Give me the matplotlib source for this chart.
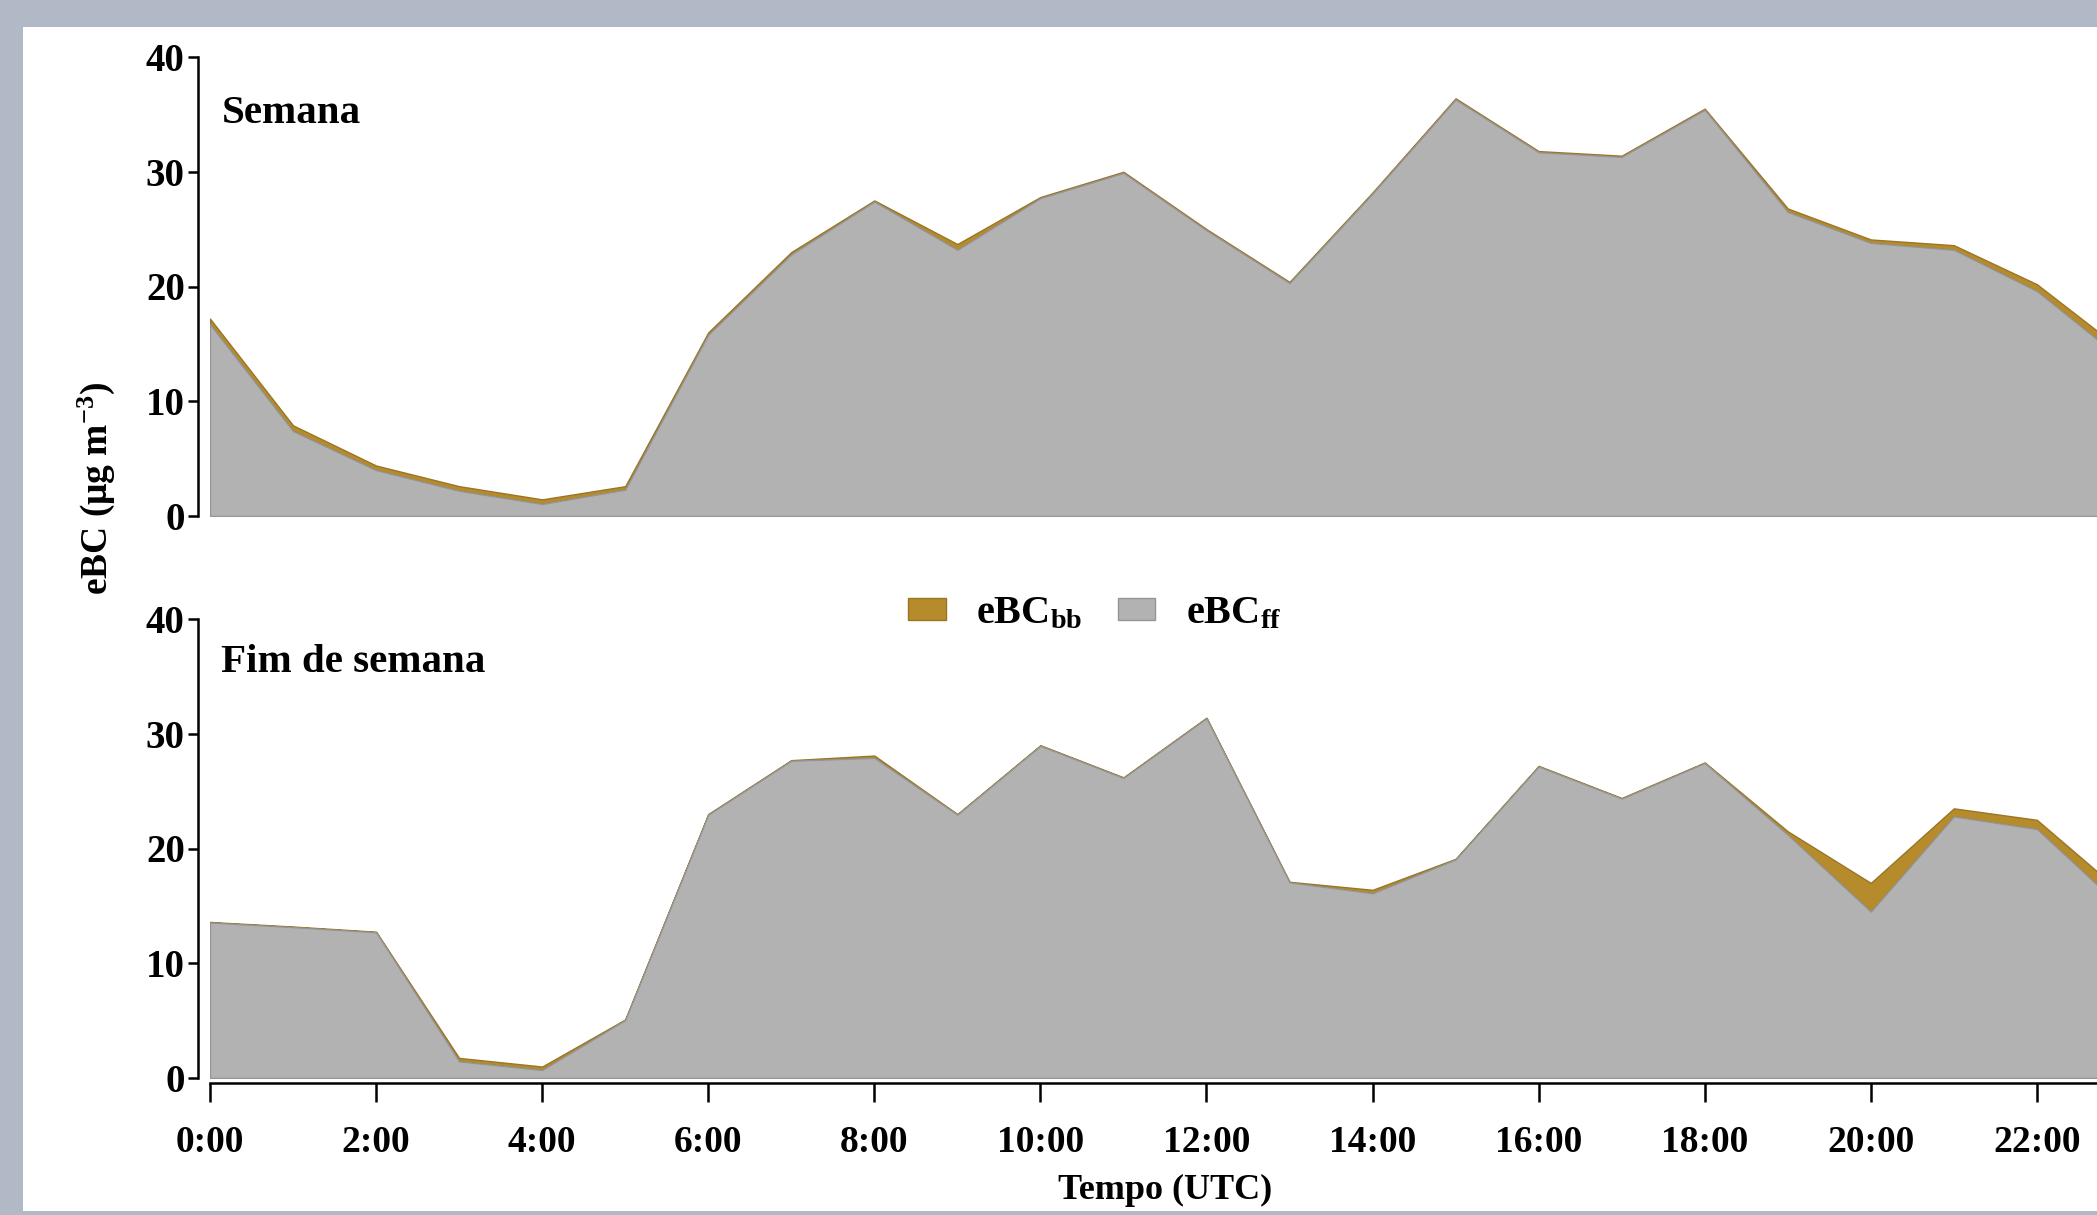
import numpy as np
import matplotlib
matplotlib.use("Agg")
import matplotlib.pyplot as plt
from matplotlib.patches import Patch, Rectangle

plt.rcParams['font.family'] = ['Liberation Serif', 'DejaVu Serif']
plt.rcParams['font.weight'] = 'bold'
plt.rcParams['mathtext.fontset'] = 'custom'
plt.rcParams['mathtext.rm'] = 'Liberation Serif:bold'
plt.rcParams['mathtext.bf'] = 'Liberation Serif:bold'
plt.rcParams['mathtext.it'] = 'Liberation Serif:bold'

# hourly means, 0..23 UTC
hours = np.arange(24)
tick_hours = np.arange(0, 23, 2)
tick_labels = ['0:00', '2:00', '4:00', '6:00', '8:00', '10:00', '12:00',
               '14:00', '16:00', '18:00', '20:00', '22:00']

# weekdays (Semana)
week_ff = [16.7, 7.4, 4.0, 2.2, 1.05, 2.3, 15.8, 22.8, 27.4, 23.2, 27.7, 29.9,
           24.9, 20.3, 28.1, 36.3, 31.7, 31.3, 35.4, 26.5, 23.8, 23.2, 19.6, 13.8]
week_bb = [0.5, 0.5, 0.4, 0.4, 0.4, 0.3, 0.2, 0.2, 0.1, 0.5, 0.1, 0.1,
           0.1, 0.1, 0.1, 0.1, 0.1, 0.1, 0.1, 0.3, 0.3, 0.4, 0.6, 0.8]

# weekend (Fim de semana)
wknd_ff = [13.55, 13.15, 12.7, 1.45, 0.7, 5.05, 22.95, 27.65, 27.9, 22.95, 28.95, 26.15,
           31.35, 17.05, 16.1, 19.05, 27.15, 24.35, 27.45, 21.2, 14.5, 22.8, 21.7, 15.0]
wknd_bb = [0.05, 0.05, 0.05, 0.3, 0.3, 0.05, 0.05, 0.05, 0.2, 0.05, 0.05, 0.05,
           0.05, 0.05, 0.3, 0.05, 0.05, 0.05, 0.05, 0.3, 2.5, 0.7, 0.8, 1.3]

c_bb = '#b68b2c'
c_bb_edge = '#9a7624'
c_ff = '#b2b2b2'
c_ff_edge = '#959595'
frame = '#b1b9c6'

W, H = 2097, 1215
fig = plt.figure(figsize=(W / 100, H / 100), dpi=100)
fig.patch.set_facecolor(frame)
# white page inside the bluish frame
fig.patches.append(Rectangle((23 / W, 4 / H), 1, 1 - 31 / H, transform=fig.transFigure,
                             facecolor='white', edgecolor='none', zorder=-10))

x0 = 210 / W
aw = 23 * 83.04 / W
ah = 459 / H
ax_top = fig.add_axes([x0, 1 - 516 / H, aw, ah])
ax_bot = fig.add_axes([x0, 1 - 1078 / H, aw, ah])

for ax, ff, bb, name, ny in [(ax_top, week_ff, week_bb, 'Semana', 0.877),
                             (ax_bot, wknd_ff, wknd_bb, 'Fim de semana', 0.905)]:
    ax.set_facecolor('none')
    polys = ax.stackplot(hours, ff, bb, colors=[c_ff, c_bb], linewidth=1.0)
    # grey fill drawn over the thin brown band so its outline shows where bb ~ 0
    polys[0].set_edgecolor(c_ff_edge)
    polys[0].set_zorder(3)
    polys[1].set_edgecolor(c_bb_edge)
    polys[1].set_zorder(2)
    ax.set_xlim(0, 23)
    ax.set_ylim(0, 40)
    ax.set_yticks([0, 10, 20, 30, 40])
    ax.spines['top'].set_visible(False)
    ax.spines['right'].set_visible(False)
    ax.spines['left'].set_position(('outward', 8.6))
    ax.spines['left'].set_linewidth(1.8)
    ax.tick_params(axis='y', direction='out', length=7.5, width=1.8,
                   labelsize=28, pad=2)
    for lb in ax.get_yticklabels():
        lb.set_fontweight('bold')
    ax.text(0.006, ny, name, transform=ax.transAxes,
            fontsize=29.5, fontweight='bold', ha='left', va='center', zorder=5)

ax_top.spines['bottom'].set_visible(False)
ax_top.set_xticks([])

ax_bot.spines['bottom'].set_position(('outward', 3.6))
ax_bot.spines['bottom'].set_linewidth(1.8)
ax_bot.set_xticks(tick_hours)
ax_bot.set_xticklabels(tick_labels, fontweight='bold')
ax_bot.tick_params(axis='x', direction='out', length=14, width=1.8,
                   labelsize=27, pad=16)
ax_bot.set_xlabel('Tempo (UTC)', fontsize=26, fontweight='bold', labelpad=10)

fig.text(0.046, 0.598, r'eBC (μg m$^{-3}$)', rotation=90, fontsize=27,
         fontweight='bold', ha='center', va='center')

handles = [Patch(facecolor=c_bb, edgecolor=c_bb_edge, label=r'eBC$_{\mathrm{bb}}$'),
           Patch(facecolor=c_ff, edgecolor=c_ff_edge, label=r'eBC$_{\mathrm{ff}}$')]
fig.legend(handles=handles, loc='center', bbox_to_anchor=(0.522, 0.495), ncol=2,
           frameon=False, fontsize=29, handlelength=0.92, handleheight=0.45,
           handletextpad=0.75, columnspacing=0.9)

fig.savefig('out.png', dpi=100, facecolor=fig.get_facecolor())
